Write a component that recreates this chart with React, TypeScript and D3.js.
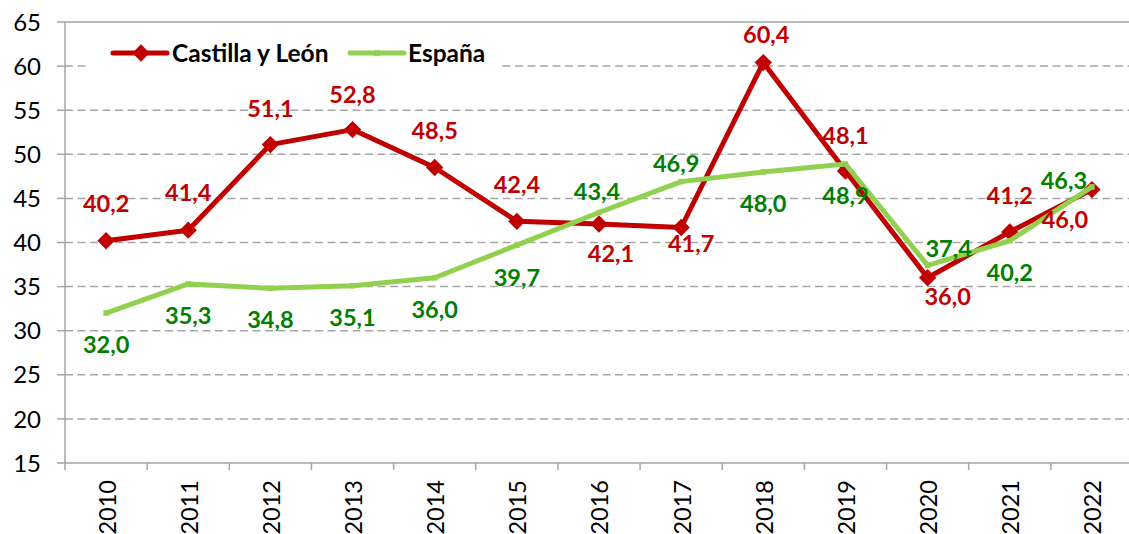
import * as d3 from 'd3';

const YEARS = ['2010', '2011', '2012', '2013', '2014', '2015', '2016', '2017', '2018', '2019', '2020', '2021', '2022'];
const CASTILLA = [40.2, 41.4, 51.1, 52.8, 48.5, 42.4, 42.1, 41.7, 60.4, 48.1, 36.0, 41.2, 46.0];
const ESPANA = [32.0, 35.3, 34.8, 35.1, 36.0, 39.7, 43.4, 46.9, 48.0, 48.9, 37.4, 40.2, 46.3];
const Y_TICKS = [15, 20, 25, 30, 35, 40, 45, 50, 55, 60, 65];

// manual label offsets (dx, dy to baseline), as placed in the original
const CASTILLA_LABEL_OFF: [number, number][] = [
  [0, -29], [0, -29], [0, -28], [0, -27], [0, -29], [0, -28], [12, 38],
  [10, 24], [3, -20], [0, -27], [20, 27], [0, -28], [-27, 38],
];
const ESPANA_LABEL_OFF: [number, number][] = [
  [0, 40], [0, 40], [0, 40], [0, 40], [0, 40], [0, 41], [-2, -13],
  [-5, -10], [0, 40], [0, 40], [21, -8], [0, 40], [-28, 2],
];

const W = 1129;
const H = 534;
const RED = '#C00000';
const GREEN = '#92D050';
const GREEN_TXT = '#008000';
const GRID = '#A6A6A6';
const FONT = 'Lato, "Open Sans", sans-serif';

const fmt = (v: number) => v.toFixed(1).replace('.', ',');

export default function App() {
  const margin = { top: 22, left: 65, bottom: 71 };
  const x = d3.scaleBand<string>().domain(YEARS).range([margin.left, 1133]);
  const y = d3.scaleLinear().domain([15, 65]).range([H - margin.bottom, margin.top]);
  const cx = (i: number) => (x(YEARS[i]) || 0) + x.bandwidth() / 2;

  const line = d3.line<number>().x((_, i) => cx(i)).y(d => y(d));
  const diamond = d3.symbol(d3.symbolSquare, 150)();
  const smallSq = d3.symbol(d3.symbolSquare, 30)();

  const bottom = y(15);

  return (
    <div style={{ position: 'fixed', left: 0, top: 0, width: W, height: H, background: '#fff' }}>
      <svg width={W} height={H} style={{ display: 'block', fontFamily: FONT }}>
        {/* grid */}
        {Y_TICKS.slice(1, -1).map(t => (
          <line key={t} x1={margin.left} x2={W} y1={y(t)} y2={y(t)}
            stroke={GRID} strokeWidth={1.5} strokeDasharray="8,4.5" />
        ))}
        <line x1={margin.left} x2={W} y1={y(65)} y2={y(65)} stroke={GRID} strokeWidth={1.5} />

        {/* axes */}
        <line x1={margin.left} x2={margin.left} y1={y(65)} y2={bottom + 7} stroke={GRID} strokeWidth={1.5} />
        <line x1={margin.left} x2={W} y1={bottom} y2={bottom} stroke={GRID} strokeWidth={1.5} />
        {Y_TICKS.map(t => (
          <g key={t}>
            <line x1={margin.left - 8} x2={margin.left} y1={y(t)} y2={y(t)} stroke={GRID} strokeWidth={1.5} />
            <text x={41} y={y(t)} dy="0.36em" textAnchor="end" fontSize={24} fill="#000">{t}</text>
          </g>
        ))}
        {YEARS.map(yr => (
          <line key={yr} x1={(x(yr) || 0) + x.bandwidth()} x2={(x(yr) || 0) + x.bandwidth()}
            y1={bottom} y2={bottom + 7} stroke={GRID} strokeWidth={1.5} />
        ))}
        {YEARS.map((yr, i) => (
          <text key={yr} transform={`translate(${cx(i) + 1},480) rotate(-90)`} textAnchor="end"
            dy="0.36em" fontSize={23.5} fill="#000">{yr}</text>
        ))}

        {/* Castilla y León */}
        <path d={line(CASTILLA) || ''} fill="none" stroke={RED} strokeWidth={5} strokeLinejoin="round" />
        {CASTILLA.map((v, i) => (
          <path key={i} d={diamond || ''} fill={RED} transform={`translate(${cx(i)},${y(v)}) rotate(45)`} />
        ))}

        {/* España */}
        <path d={line(ESPANA) || ''} fill="none" stroke={GREEN} strokeWidth={5} strokeLinejoin="round" />
        {ESPANA.map((v, i) => (
          <path key={i} d={smallSq || ''} fill={GREEN} transform={`translate(${cx(i)},${y(v)})`} />
        ))}

        {/* labels */}
        {CASTILLA.map((v, i) => (
          <text key={i} x={cx(i) + CASTILLA_LABEL_OFF[i][0]} y={y(v) + CASTILLA_LABEL_OFF[i][1]}
            textAnchor="middle" fontSize={23.5} fontWeight={700} fill={RED}>{fmt(v)}</text>
        ))}
        {ESPANA.map((v, i) => (
          <text key={i} x={cx(i) + ESPANA_LABEL_OFF[i][0]} y={y(v) + ESPANA_LABEL_OFF[i][1]}
            textAnchor="middle" fontSize={23.5} fontWeight={700} fill={GREEN_TXT}>{fmt(v)}</text>
        ))}

        {/* legend */}
        <g>
          <rect x={88} y={36} width={412} height={36} fill="#fff" />
          <line x1={113} x2={167} y1={53} y2={53} stroke={RED} strokeWidth={5} strokeLinecap="round" />
          <path d={diamond || ''} fill={RED} transform="translate(141,53) rotate(45)" />
          <text x={172} y={62} fontSize={24.5} fontWeight={700} fill="#000">Castilla y León</text>
          <line x1={350} x2={404} y1={53} y2={53} stroke={GREEN} strokeWidth={5} strokeLinecap="round" />
          <path d={smallSq || ''} fill={GREEN} transform="translate(377,53)" />
          <text x={408} y={62} fontSize={24.5} fontWeight={700} fill="#000">España</text>
        </g>
      </svg>
    </div>
  );
}
